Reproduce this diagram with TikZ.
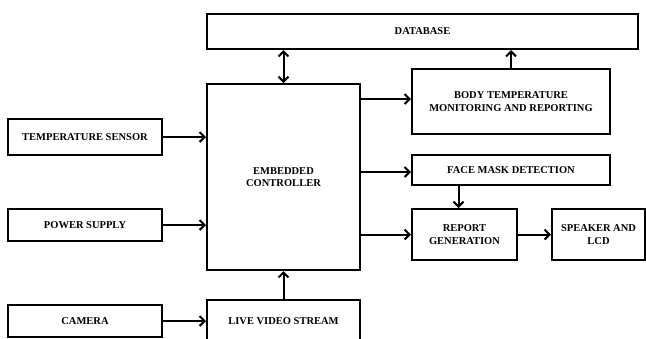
\documentclass[tikz,border=0pt]{standalone}
\usepackage{fontspec}
\setmainfont{Liberation Serif}
\usetikzlibrary{arrows.meta}
\begin{document}
\begin{tikzpicture}[x=1pt,y=-1pt,
  blk/.style={draw, line width=2pt, inner sep=0pt, align=center,
    font=\fontsize{10.5}{12.5}\selectfont\bfseries},
  tip/.style={Straight Barb[length=5pt,width=10pt,line width=2pt]},
  link/.style={line width=2pt, -{Straight Barb[length=5pt,width=10pt,line width=2pt]}},
  dlink/.style={line width=2pt, {Straight Barb[length=5pt,width=10pt,line width=2pt]}-{Straight Barb[length=5pt,width=10pt,line width=2pt]}}]
\useasboundingbox (0,0) rectangle (646,338);
% blocks
\node[blk, minimum width=431pt, minimum height=35pt] (db) at (422.5,31.5) {DATABASE};
\node[blk, minimum width=153pt, minimum height=186pt] (ctrl) at (283.5,177) {EMBEDDED\\CONTROLLER};
\node[blk, minimum width=154pt, minimum height=36pt] (temp) at (85,137) {TEMPERATURE SENSOR};
\node[blk, minimum width=154pt, minimum height=32pt] (pow) at (85,225) {POWER SUPPLY};
\node[blk, minimum width=154pt, minimum height=32pt] (cam) at (85,321) {CAMERA};
\node[blk, minimum width=153pt, minimum height=42pt] (live) at (283.5,321) {LIVE VIDEO STREAM};
\node[blk, minimum width=198pt, minimum height=65pt] (body) at (511,101.5) {BODY TEMPERATURE\\MONITORING AND REPORTING};
\node[blk, minimum width=198pt, minimum height=30pt] (face) at (511,170) {FACE MASK DETECTION};
\node[blk, minimum width=105pt, minimum height=51pt] (rep) at (464.5,234.5) {REPORT\\GENERATION};
\node[blk, minimum width=93pt, minimum height=51pt] (spk) at (598.5,234.5) {SPEAKER AND\\LCD};
% connectors
\draw[dlink] (ctrl.north) -- (ctrl.north |- db.south);
\draw[link] (body.north) -- (body.north |- db.south);
\draw[link] (temp.east) -- (temp.east -| ctrl.west);
\draw[link] (pow.east) -- (pow.east -| ctrl.west);
\draw[link] (cam.east) -- (live.west);
\draw[link] (live.north) -- (ctrl.south);
\draw[link] ([yshift=2.5pt]ctrl.east |- body.west) -- ([yshift=2.5pt]body.west);
\draw[link] ([yshift=-2pt]ctrl.east |- face.west) -- ([yshift=-2pt]face.west);
\draw[link] (ctrl.east |- rep.west) -- (rep.west);
\draw[link] ([xshift=-6pt]rep.north |- face.south) -- ([xshift=-6pt]rep.north);
\draw[link] (rep.east) -- (spk.west);
\end{tikzpicture}
\end{document}
